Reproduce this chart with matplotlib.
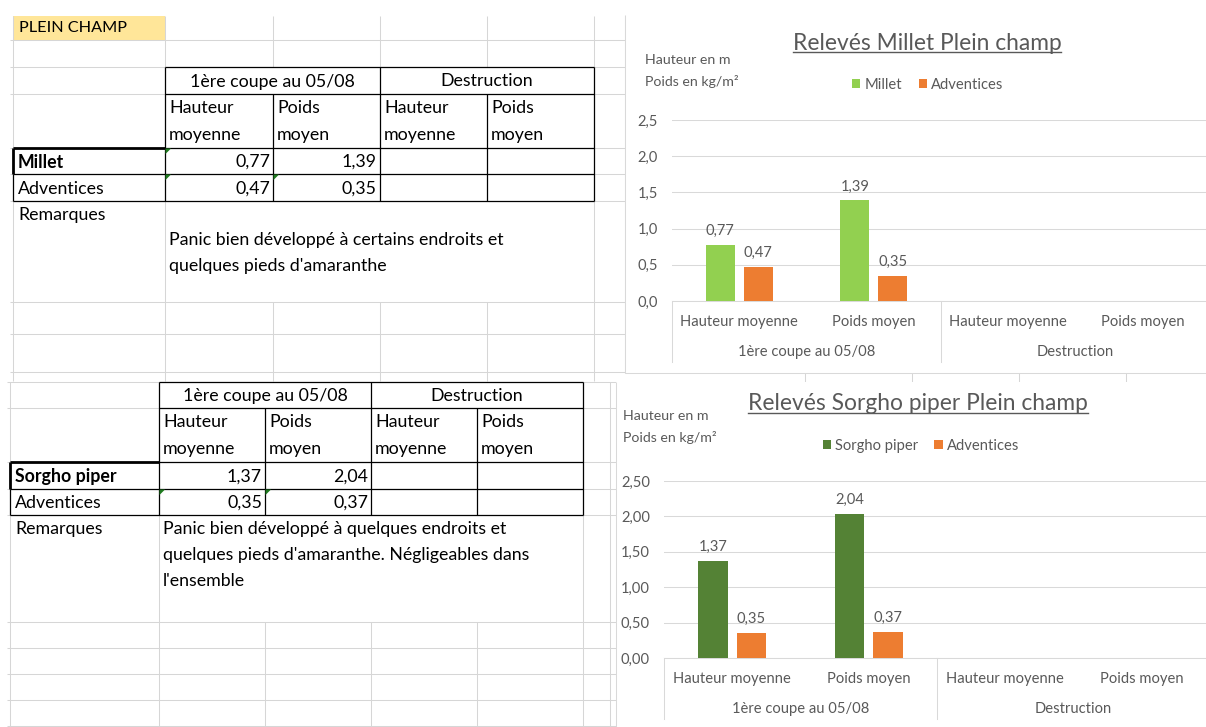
'''
Capture d'écran Excel : tableaux et graphiques des relevés en plein champ.
'''

import numpy as np
import matplotlib
matplotlib.use('Agg')
import matplotlib.pyplot as plt
from matplotlib.patches import Rectangle

plt.rcParams['font.family'] = ['Lato', 'DejaVu Sans']

# Données
categories = ['Hauteur moyenne', 'Poids moyen', 'Hauteur moyenne', 'Poids moyen']
groups = ['1ère coupe au 05/08', 'Destruction']
millet = [0.77, 1.39, np.nan, np.nan]
adventices_millet = [0.47, 0.35, np.nan, np.nan]
sorgho = [1.37, 2.04, np.nan, np.nan]
adventices_sorgho = [0.35, 0.37, np.nan, np.nan]
y_ticks = [0.0, 0.5, 1.0, 1.5, 2.0, 2.5]

note_millet = ['Panic bien développé à certains endroits et',
               "quelques pieds d'amaranthe"]
note_sorgho = ['Panic bien développé à quelques endroits et',
               "quelques pieds d'amaranthe. Négligeables dans",
               "l'ensemble"]

W, H = 1206, 727
GRID = '#D6D6D6'
CHART_GRID = '#D9D9D9'
TXT = '#595959'
ORANGE = '#ED7D31'
TFS = 12.8
CFS = 10.6


def fr(v, d=2):
    return f'{v:.{d}f}'.replace('.', ',')


fig = plt.figure(figsize=(W / 100, H / 100), dpi=100)
bg = fig.add_axes([0, 0, 1, 1])
bg.set_xlim(0, W)
bg.set_ylim(H, 0)
bg.axis('off')


def hline(y, x0, x1, c=GRID, lw=0.75, z=2):
    bg.plot([x0, x1], [y, y], color=c, lw=lw, solid_capstyle='butt', zorder=z)


def vline(x, y0, y1, c=GRID, lw=0.75, z=2):
    bg.plot([x, x], [y0, y1], color=c, lw=lw, solid_capstyle='butt', zorder=z)


def tri(x, y):
    bg.fill([x + 0.5, x + 6, x + 0.5], [y + 0.5, y + 0.5, y + 6], color='#1F7A1F', lw=0, zorder=4)


def draw_table(xs, ys, crop, crop_vals, adv_vals, y_end, grid_rows, right, top):
    # xs : bords des colonnes, ys : bords des lignes du tableau
    x0, c1, c2, c3, c4, c5 = xs
    t0, t1, t2, r1, r2 = ys
    # quadrillage gris de la feuille
    for y in grid_rows + [t1, t2, r1, r2]:
        hline(y, x0 - 3, right)
    vline(x0, top, y_end)
    vline(c1, top, y_end)
    vline(c5, top, y_end)
    for x in [c2, c3, c4]:
        vline(x, top, t0)
        vline(x, grid_rows[0], y_end)
    # bordures noires du tableau
    k = 'black'
    hline(t0, c1, c5, k, 0.9, 3)
    hline(t1, c1, c5, k, 0.9, 3)
    hline(t2, c1, c5, k, 0.9, 3)
    hline(r1, x0, c5, k, 0.9, 3)
    hline(r2, x0, c5, k, 0.9, 3)
    hline(t2, x0, c1, k, 2.0, 3)
    vline(x0, t2, r1, k, 2.0, 3)
    vline(x0, r1, r2, k, 0.9, 3)
    vline(c3, t0, r2, k, 0.9, 3)
    for x in [c1, c5]:
        vline(x, t0, r2, k, 0.9, 3)
    for x in [c2, c4]:
        vline(x, t1, r2, k, 0.9, 3)
    # en-têtes
    bg.text((c1 + c3) / 2, (t0 + t1) / 2 + 1, groups[0], ha='center', va='center', fontsize=TFS)
    bg.text((c3 + c5) / 2, (t0 + t1) / 2 + 1, groups[1], ha='center', va='center', fontsize=TFS)
    for xa in [c1, c3]:
        bg.text(xa + 4, t1 + 14, 'Hauteur', va='center', fontsize=TFS)
        bg.text(xa + 4, t1 + 41, 'moyenne', va='center', fontsize=TFS)
    for xa in [c2, c4]:
        bg.text(xa + 4, t1 + 14, 'Poids', va='center', fontsize=TFS)
        bg.text(xa + 4, t1 + 41, 'moyen', va='center', fontsize=TFS)
    bg.text(x0 + 5, (t2 + r1) / 2 + 1, crop, va='center', fontsize=TFS, fontweight='bold')
    bg.text(x0 + 5, (r1 + r2) / 2 + 1, 'Adventices', va='center', fontsize=TFS)
    cols = [c2, c3, c4, c5]
    for i, v in enumerate(crop_vals):
        if not np.isnan(v):
            bg.text(cols[i] - 3, (t2 + r1) / 2 + 1, fr(v), ha='right', va='center', fontsize=TFS)
    for i, v in enumerate(adv_vals):
        if not np.isnan(v):
            bg.text(cols[i] - 3, (r1 + r2) / 2 + 1, fr(v), ha='right', va='center', fontsize=TFS)
    bg.text(x0 + 5, r2 + 14, 'Remarques', va='center', fontsize=TFS)


# ---- Tableau du haut
bg.add_patch(Rectangle((13, 16), 152, 24, facecolor='#FFE699', lw=0))
bg.text(19, 28.5, 'PLEIN CHAMP', va='center', fontsize=11.7)
draw_table([13, 165, 273, 380, 487, 594], [67, 94, 148, 174, 201],
           'Millet', millet, adventices_millet,
           381, [302, 334, 372, 40, 67], 626, 16)
for i, line in enumerate(note_millet):
    bg.text(169, 240 + 25.5 * i, line, va='center', fontsize=TFS)
tri(165, 148)
tri(165, 174)
tri(273, 174)
vline(625, 16, 373)

# ---- Tableau du bas
draw_table([10, 159, 265, 371, 477, 583], [382, 408, 462, 489, 515],
           'Sorgho piper', sorgho, adventices_sorgho,
           727, [622, 648, 674, 700, 726, 382], 616, 382)
vline(610, 382, 727)
for i, line in enumerate(note_sorgho):
    bg.text(163, 529 + 26 * i, line, va='center', fontsize=TFS)
tri(159, 489)
tri(265, 489)

# traits de colonnes sous le graphique du haut
for x in [805, 912, 1019, 1126]:
    vline(x, 372, 383)


def draw_chart(ax_px, frame_px, title, title_xy, unit_xy, crop_name,
               crop_vals, adv_vals, crop_color, legend_xy, dec):
    fx0, fy0, fx1, fy1 = frame_px
    bg.add_patch(Rectangle((fx0, fy0), fx1 - fx0, fy1 - fy0, facecolor='white', lw=0, zorder=5))
    vline(fx0, fy0, fy1, CHART_GRID, 0.75, 5.5)
    hline(fy1, fx0, fx1, CHART_GRID, 0.75, 5.5)
    t = bg.text(title_xy[0], title_xy[1], title, ha='center', va='center',
                fontsize=16.4, color=TXT, zorder=6)
    r = fig.canvas.get_renderer()
    bb = t.get_window_extent(r)
    (ux0, uy), (ux1, _) = bg.transData.inverted().transform([[bb.x0, bb.y0], [bb.x1, bb.y0]])
    bg.plot([ux0, ux1], [uy - 2, uy - 2], color=TXT, lw=1.0, zorder=6)
    bg.text(unit_xy[0], unit_xy[1], 'Hauteur en m', va='center', fontsize=CFS - 0.4, color=TXT, zorder=6)
    bg.text(unit_xy[0], unit_xy[1] + 21, 'Poids en kg/m²', va='center', fontsize=CFS - 0.4, color=TXT, zorder=6)

    l, tp, rt, b = ax_px
    ax = fig.add_axes([l / W, 1 - b / H, (rt - l) / W, (b - tp) / H])
    ax.patch.set_alpha(0)
    x = np.arange(len(categories)) + 0.5
    w = 0.218
    b1 = ax.bar(x - 0.141, crop_vals, w, color=crop_color, label=crop_name, zorder=3)
    b2 = ax.bar(x + 0.141, adv_vals, w, color=ORANGE, label='Adventices', zorder=3)
    for bars, vals in [(b1, crop_vals), (b2, adv_vals)]:
        ax.bar_label(bars, labels=['' if np.isnan(v) else fr(v) for v in vals],
                     padding=5, fontsize=CFS, color=TXT)
    ax.set_xlim(0, len(categories))
    ax.set_ylim(y_ticks[0], y_ticks[-1])
    ax.set_yticks(y_ticks)
    ax.set_yticklabels([fr(v, dec) for v in y_ticks])
    ax.tick_params(axis='y', length=0, pad=10, labelsize=CFS, labelcolor=TXT)
    ax.set_xticks([])
    ax.yaxis.grid(True, color=CHART_GRID, lw=0.75)
    ax.set_axisbelow(True)
    for s in ['top', 'right', 'left']:
        ax.spines[s].set_visible(False)
    ax.spines['bottom'].set_color(CHART_GRID)
    ax.spines['bottom'].set_linewidth(0.75)

    tr = ax.get_xaxis_transform()
    for xi, cat in zip(x, categories):
        ax.annotate(cat, (xi, 0), xycoords=tr, xytext=(0, -21), textcoords='offset pixels',
                    ha='center', va='center', fontsize=CFS, color=TXT)
    for gi, g in enumerate(groups):
        ax.annotate(g, (2 * gi + 1, 0), xycoords=tr, xytext=(0, -51), textcoords='offset pixels',
                    ha='center', va='center', fontsize=CFS, color=TXT)
    depth = 61 / (b - tp)
    for xs in [0, 2, 4]:
        ax.plot([xs, xs], [0, -depth], transform=tr, color=CHART_GRID, lw=0.75, clip_on=False)

    ax.legend(loc='center', bbox_to_anchor=(legend_xy[0] / W, 1 - legend_xy[1] / H),
              bbox_transform=fig.transFigure, ncol=2, frameon=False, fontsize=CFS,
              handlelength=0.55, handleheight=0.55, handletextpad=0.3,
              columnspacing=1.1, labelcolor=TXT)
    return ax


draw_chart((672, 120, 1210, 301), (625, 15, 1215, 373), 'Relevés Millet Plein champ',
           (927, 43), (645, 60), 'Millet', millet, adventices_millet, '#92D050', (928, 85), 1)
draw_chart((664, 481, 1210, 658), (616, 382, 1215, 740), 'Relevés Sorgho piper Plein champ',
           (918, 404), (623, 416), 'Sorgho piper', sorgho, adventices_sorgho, '#548235', (921, 446), 2)

fig.savefig('out.png', dpi=100)
